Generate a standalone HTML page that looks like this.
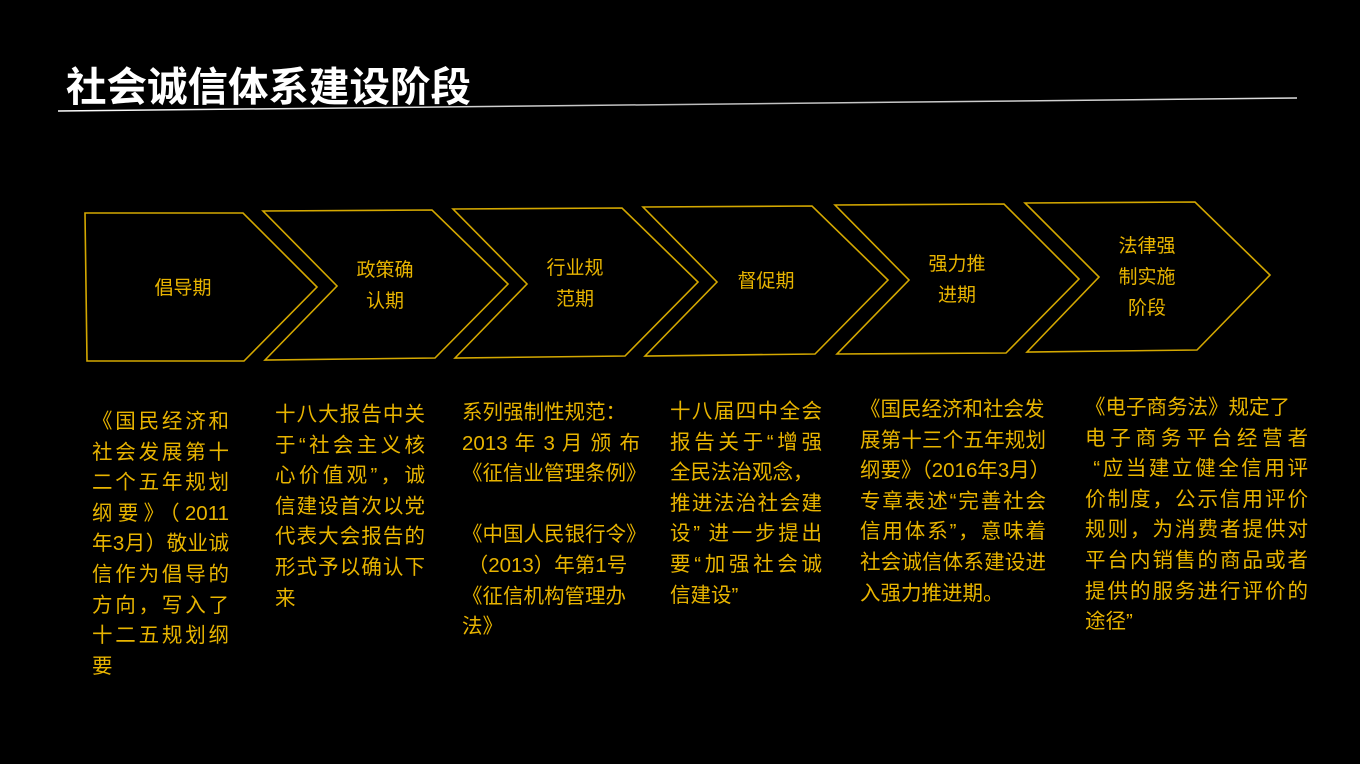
<!DOCTYPE html>
<html><head><meta charset="utf-8"><style>
body{margin:0;width:1360px;height:764px;background:#000;overflow:hidden;position:relative;font-family:"Liberation Sans","Noto Sans CJK SC",sans-serif;}
.t{position:absolute;left:66px;top:54px;color:#fff;font-size:40.5px;font-weight:bold;letter-spacing:0px;}
.col{position:absolute;color:#e8b400;font-size:20.5px;line-height:30.6px;}
.col div{white-space:nowrap;text-align:justify;text-align-last:justify;}
.col div.l{text-align-last:left;}
.lab{position:absolute;color:#e8b400;font-size:19px;line-height:31px;text-align:center;width:120px;}
</style></head><body>
<div class="t">社会诚信体系建设阶段</div>
<svg width="1360" height="764" style="position:absolute;left:0;top:0">
<defs><linearGradient id="g" x1="0" x2="1"><stop offset="0" stop-color="#fff"/><stop offset="0.5" stop-color="#bbb"/><stop offset="1" stop-color="#ddd"/></linearGradient></defs>
<line x1="58" y1="111" x2="1297" y2="98" stroke="url(#g)" stroke-width="1.5"/>
<g fill="none" stroke="#d4a800" stroke-width="1.6">
<polygon points="85,213 243,213 317,287 244,361 87,361"/>
<polygon points="263,211 432,210 508,284 435,358 265,360 337,286"/>
<polygon points="453,209 622,208 698,282 625,356 455,358 527,284"/>
<polygon points="643,207 812,206 888,280 815,354 645,356 717,282"/>
<polygon points="835,205 1004,204 1079,279 1006,353 837,354 909,280"/>
<polygon points="1025,203 1195,202 1270,275 1197,350 1027,352 1099,277"/>
</g></svg>
<div class="lab" style="left:123px;top:273px">倡导期</div>
<div class="lab" style="left:325px;top:255px">政策确<br>认期</div>
<div class="lab" style="left:515px;top:253px">行业规<br>范期</div>
<div class="lab" style="left:706px;top:266px">督促期</div>
<div class="lab" style="left:897px;top:249px">强力推<br>进期</div>
<div class="lab" style="left:1087px;top:231px">法律强<br>制实施<br>阶段</div>

<div class="col" style="left:92px;top:407px;width:137px">
<div>《国民经济和</div><div>社会发展第十</div><div>二个五年规划</div><div>纲要》（2011</div><div>年3月）敬业诚</div><div>信作为倡导的</div><div>方向，写入了</div><div>十二五规划纲</div><div class="l">要</div></div>

<div class="col" style="left:275px;top:400px;width:150px">
<div>十八大报告中关</div><div>于“社会主义核</div><div>心价值观”，诚</div><div>信建设首次以党</div><div>代表大会报告的</div><div>形式予以确认下</div><div class="l">来</div></div>

<div class="col" style="left:462px;top:398px;width:178px">
<div class="l">系列强制性规范：</div><div>2013 年 3 月 颁 布</div><div class="l">《征信业管理条例》</div><div class="l">&nbsp;</div><div class="l">《中国人民银行令》</div><div class="l">&nbsp;（2013）年第1号</div><div class="l">《征信机构管理办</div><div class="l">法》</div></div>

<div class="col" style="left:670px;top:397px;width:152px">
<div>十八届四中全会</div><div>报告关于“增强</div><div class="l">全民法治观念，</div><div>推进法治社会建</div><div>设” 进一步提出</div><div>要“加强社会诚</div><div class="l">信建设”</div></div>

<div class="col" style="left:860px;top:395px;width:186px">
<div class="l">《国民经济和社会发</div><div>展第十三个五年规划</div><div>纲要》（2016年3月）</div><div>专章表述“完善社会</div><div>信用体系”，意味着</div><div>社会诚信体系建设进</div><div class="l">入强力推进期。</div></div>

<div class="col" style="left:1085px;top:393px;width:223px">
<div class="l">《电子商务法》规定了</div><div>电子商务平台经营者</div><div>&nbsp;“应当建立健全信用评</div><div>价制度，公示信用评价</div><div>规则，为消费者提供对</div><div>平台内销售的商品或者</div><div>提供的服务进行评价的</div><div class="l">途径”</div></div>
</body></html>
